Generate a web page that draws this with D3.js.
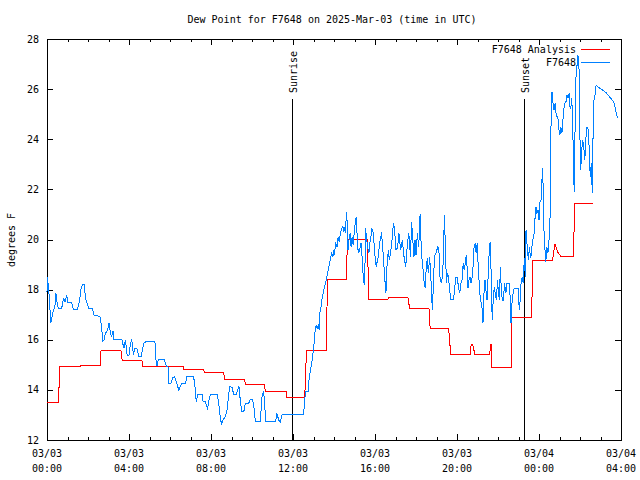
<!DOCTYPE html>
<html>
<head>
<meta charset="utf-8">
<script src="https://cdn.jsdelivr.net/npm/d3@7"></script>
<style>
html,body{margin:0;padding:0;background:#fff;}
text{font-family:"DejaVu Sans Mono","Liberation Mono",monospace;font-size:10px;fill:#000;}
</style>
</head>
<body>
<svg id="chart" width="640" height="480"></svg>
<script>
// ---- data (minutes since 2025-03-03 00:00 UTC) ----
const titleText = "Dew Point for F7648 on 2025-Mar-03 (time in UTC)";
const yLabelText = "degrees F";
const seriesNames = ["F7648 Analysis", "F7648"];
const yTicks = [12, 14, 16, 18, 20, 22, 24, 26, 28];
const xTickMinutes = [0, 240, 480, 720, 960, 1200, 1440, 1680];
const xTickDates = ["03/03", "03/03", "03/03", "03/03", "03/03", "03/03", "03/04", "03/04"];
const xTickTimes = ["00:00", "04:00", "08:00", "12:00", "16:00", "20:00", "00:00", "04:00"];
const sunEvents = ["Sunrise", "Sunset"];
const sunMinutes = [718, 1395];

const analysisMinutes = [0,33.1,38.1,96.8,99.7,155.4,158.3,216.1,219.9,277.7,280.0,397.9,400.2,458.3,460.3,516.9,520.4,578.5,580.5,636.2,639.2,699.9,702.2,754.4,759.4,817.2,821.0,875.8,879.6,937.4,942.1,997.8,999.8,1056.4,1061.4,1118.0,1121.5,1175.7,1181.6,1238.2,1241.7,1246.1,1252.0,1296.0,1298.0,1299.8,1301.8,1358.4,1360.4,1418.2,1422.0,1479.8,1486.5,1495.3,1504.1,1540.2,1545.2,1598.8];
const analysisValues = [13.5,13.5,14.94,14.94,14.98,14.98,15.59,15.59,15.18,15.18,14.94,14.94,14.83,14.83,14.70,14.70,14.42,14.42,14.22,14.22,13.94,13.94,13.71,13.71,15.58,15.58,18.41,18.41,20.0,20.0,17.61,17.61,17.67,17.67,17.25,17.25,16.43,16.43,15.42,15.42,15.82,15.82,15.42,15.42,15.82,15.82,14.91,14.91,16.89,16.89,19.18,19.18,19.81,19.49,19.33,19.33,21.44,21.44];

const stationMinutes = [0,1,3,7,11,15,18,23,26,30,33,43,48,53,58,61,72,77,89,95,99,104,109,113,118,122,133,138,150,155,160,163,167,171,175,179,182,185,189,193,196,219,222,226,229,232,235,240,243,248,253,257,263,269,275,278,284,290,316,318,322,326,343,349,354,357,363,368,373,380,386,390,395,405,410,429,433,437,441,454,457,463,470,476,480,498,502,507,511,515,522,527,531,535,542,546,554,558,562,566,570,576,580,590,595,601,605,610,625,627,630,634,637,640,669,673,678,683,688,751,754,757,764,766,771,776,781,784,788,791,794,797,798,802,805,810,815,820,825,829,833,837,839,842,844,849,852,855,859,862,866,869,872,874,876,879,881,884,887,890,893,896,899,902,905,908,911,915,919,923,926,929,931,932,935,938,942,945,948,951,954,958,961,964,967,970,973,976,979,983,986,989,992,995,999,1002,1005,1009,1012,1015,1018,1021,1026,1030,1035,1040,1045,1050,1055,1059,1064,1067,1070,1074,1077,1080,1084,1088,1092,1094,1097,1100,1103,1107,1109,1113,1116,1120,1123,1126,1128,1131,1134,1138,1141,1144,1147,1150,1154,1157,1160,1163,1166,1169,1172,1175,1178,1182,1189,1192,1196,1201,1204,1208,1211,1215,1218,1221,1224,1227,1229,1232,1235,1238,1241,1244,1247,1250,1253,1256,1259,1262,1265,1268,1271,1274,1276,1279,1282,1285,1288,1291,1294,1297,1300,1303,1306,1309,1313,1316,1318,1321,1324,1327,1330,1333,1336,1339,1343,1346,1353,1356,1358,1361,1364,1367,1380,1382,1385,1388,1391,1394,1397,1400,1402,1404,1407,1409,1412,1415,1418,1421,1425,1428,1431,1434,1437,1440,1443,1446,1448,1451,1454,1457,1460,1463,1466,1469,1472,1475,1478,1481,1484,1487,1489,1492,1495,1498,1501,1504,1507,1510,1513,1516,1519,1522,1525,1528,1530,1533,1536,1539,1541,1543,1545,1547,1549,1552,1554,1556,1558,1560,1562,1565,1568,1571,1574,1577,1580,1582,1585,1587,1590,1593,1596,1598,1601,1604,1607,1611,1616,1626,1636,1646,1654,1661,1665,1670];
const stationValues = [17.92,18.49,18.26,17.65,16.67,16.92,17.12,17.32,17.85,17.45,17.25,17.25,17.65,17.52,17.78,17.48,17.48,17.21,17.21,17.52,18.01,18.22,18.22,17.61,17.45,17.25,17.25,16.95,16.95,16.92,16.5,15.95,15.99,16.26,16.32,16.5,16.68,16.32,16.12,16.36,16.02,16.02,15.83,15.66,15.99,15.72,15.35,15.39,15.72,16.02,15.39,15.66,15.66,15.32,15.32,15.52,15.88,15.92,15.92,15.26,14.95,15.22,15.22,14.95,14.95,14.26,14.26,14.5,14.52,14.26,13.97,14.13,14.26,14.26,14.55,14.55,14.13,13.53,13.83,13.83,13.53,13.53,13.26,13.73,13.83,13.83,13.53,12.93,12.6,12.8,12.93,13.2,13.73,14.13,14.1,13.83,13.83,14.02,14.13,13.53,13.13,13.13,13.44,13.46,13.62,13.62,13.39,12.73,12.73,13.33,13.83,13.93,13.46,12.73,12.73,13.06,12.8,12.73,13.0,13.0,13.59,13.93,13.93,14.33,14.79,15.19,15.72,16.26,16.59,16.46,16.59,16.39,17.05,17.32,17.65,17.98,18.25,18.58,18.91,19.18,19.45,19.31,19.58,19.38,19.85,19.71,20.11,19.91,20.25,20.41,20.51,20.31,20.51,20.25,21.11,20.64,19.58,19.98,20.25,19.71,20.11,19.78,20.25,20.64,20.91,20.11,19.45,19.58,19.85,19.18,18.38,18.18,19.18,20.44,20.11,19.71,19.45,19.85,20.11,20.44,20.31,19.71,19.18,18.91,19.18,19.31,19.85,19.98,20.31,19.58,18.98,18.38,17.85,18.91,19.58,19.18,19.45,19.85,20.38,20.64,20.25,19.6,19.65,20.25,19.58,19.98,19.31,18.91,19.85,20.25,19.31,20.71,20.11,19.31,19.98,19.38,20.25,19.71,21.02,20.11,19.31,18.91,18.38,18.05,18.65,19.25,18.65,19.31,18.65,17.72,17.19,18.25,19.31,19.45,19.58,19.71,19.58,18.51,18.25,18.51,19.18,20.98,19.71,18.25,18.65,18.51,18.05,17.61,17.61,17.85,18.49,18.49,18.12,17.85,18.25,18.38,19.05,18.78,19.05,19.38,19.05,18.05,18.38,18.51,18.25,18.45,18.91,19.71,19.85,19.45,19.85,18.98,18.25,17.65,17.45,17.19,16.65,17.85,18.38,17.92,17.58,18.51,19.45,19.91,18.65,16.79,17.58,18.12,17.72,17.58,18.38,17.98,17.58,18.91,17.85,17.58,17.58,18.25,17.85,18.25,18.25,17.58,16.65,17.45,17.85,18.05,18.05,17.19,17.58,18.38,18.51,18.25,19.25,18.51,20.38,19.98,19.45,19.18,19.71,19.25,19.45,19.98,20.11,20.78,21.31,21.04,21.18,20.78,21.51,21.58,22.24,22.84,20.51,19.71,19.11,19.71,19.45,19.91,20.51,24.44,25.9,25.43,25.17,25.43,25.1,24.9,24.9,24.44,24.17,24.5,24.24,24.77,25.23,25.43,25.5,25.77,25.63,25.83,25.3,25.23,25.63,24.37,22.91,21.91,23.97,25.57,26.9,26.96,27.36,27.03,26.63,23.97,22.77,23.57,23.97,23.7,23.17,23.97,24.5,24.44,24.37,23.5,22.51,23.04,21.84,23.97,25.57,25.77,26.16,26.1,26.06,25.96,25.86,25.7,25.57,25.43,25.1,24.84];

// ---- layout ----
const L = 47, R = 621, T = 39, B = 440;
const svg = d3.select("#chart");
const x = d3.scaleLinear().domain([0, 1680]).range([L, R]);
const y = d3.scaleLinear().domain([12, 28]).range([B, T]);
const colors = ["#ff0000", "#0080ff"];
const minorTicks = d3.range(0, 1681, 60).filter(m => m % 240 !== 0);

// frame
svg.append("rect").attr("x", L + 0.5).attr("y", T + 0.5).attr("width", R - L).attr("height", B - T)
  .attr("fill", "none").attr("stroke", "#000").attr("stroke-width", 1).attr("shape-rendering", "crispEdges");

// axes ticks (inward, mirrored)
function tickGroup(axis, tx, ty) {
  const g = svg.append("g").attr("transform", `translate(${tx},${ty})`).call(axis);
  g.select(".domain").remove();
  g.selectAll("line").attr("stroke", "#000").attr("shape-rendering", "crispEdges");
  g.selectAll("text").remove();
  return g;
}
tickGroup(d3.axisBottom(x).tickValues(xTickMinutes).tickSize(-6), 0, B);
tickGroup(d3.axisBottom(x).tickValues(minorTicks).tickSize(-3), 0, B);
tickGroup(d3.axisTop(x).tickValues(xTickMinutes).tickSize(-6), 0, T);
tickGroup(d3.axisTop(x).tickValues(minorTicks).tickSize(-3), 0, T);
tickGroup(d3.axisLeft(y).tickValues(yTicks).tickSize(-6), L, 0);
tickGroup(d3.axisRight(y).tickValues(yTicks).tickSize(-6), R, 0);

// tick labels
svg.append("g").selectAll("text").data(yTicks).join("text")
  .attr("x", 39).attr("y", d => y(d)).attr("dy", "0.35em").attr("text-anchor", "end").text(d => d);
const xl = svg.append("g").selectAll("g").data(xTickMinutes).join("g");
xl.append("text").attr("x", d => x(d)).attr("y", 457).attr("text-anchor", "middle").text((d, i) => xTickDates[i]);
xl.append("text").attr("x", d => x(d)).attr("y", 472).attr("text-anchor", "middle").text((d, i) => xTickTimes[i]);

// title and axis label
svg.append("text").attr("x", 332).attr("y", 23).attr("text-anchor", "middle").text(titleText);
svg.append("text").attr("transform", "translate(15,240) rotate(-90)").attr("text-anchor", "middle").text(yLabelText);

// sunrise/sunset
sunMinutes.forEach((m, i) => {
  const sx = Math.round(x(m)) + 0.5;
  svg.append("line").attr("x1", sx).attr("x2", sx).attr("y1", 99).attr("y2", B)
    .attr("stroke", "#000").attr("stroke-width", 1).attr("shape-rendering", "crispEdges");
  svg.append("text").attr("transform", `translate(${sx + 4},93) rotate(-90)`).attr("text-anchor", "start").text(sunEvents[i]);
});

// lines
const line = d3.line().x(d => x(d[0])).y(d => y(d[1]));
const analysis = analysisMinutes.map((m, i) => [m, analysisValues[i]]);
const station = stationMinutes.map((m, i) => [m, stationValues[i]]);
svg.append("path").datum(analysis).attr("d", line).attr("fill", "none").attr("stroke", colors[0])
  .attr("stroke-width", 1).attr("shape-rendering", "crispEdges");
svg.append("path").datum(station).attr("d", line).attr("fill", "none").attr("stroke", colors[1])
  .attr("stroke-width", 1).attr("shape-rendering", "crispEdges");

// legend
seriesNames.forEach((name, i) => {
  const ly = 49 + i * 13;
  svg.append("text").attr("x", 576).attr("y", ly).attr("dy", "0.35em").attr("text-anchor", "end").text(name);
  svg.append("line").attr("x1", 581).attr("x2", 610).attr("y1", ly + 0.5).attr("y2", ly + 0.5)
    .attr("stroke", colors[i]).attr("stroke-width", 1).attr("shape-rendering", "crispEdges");
});
</script>
</body>
</html>
